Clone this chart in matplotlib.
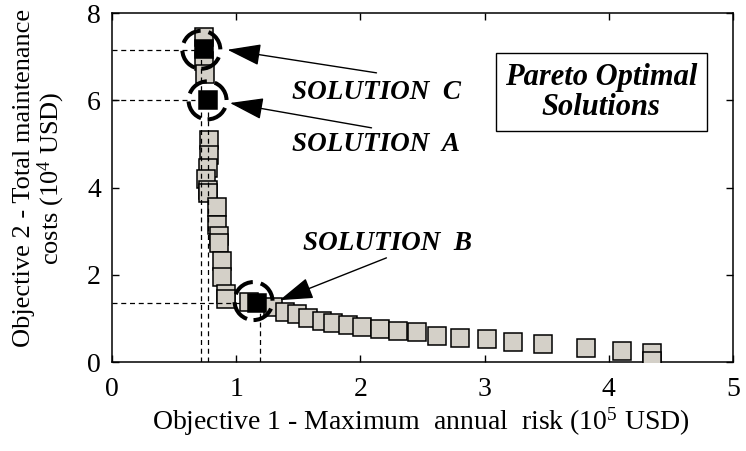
"""
Pareto front: maximum annual risk vs total maintenance costs
"""

import matplotlib
matplotlib.use('Agg')
import matplotlib.pyplot as plt
from matplotlib.patches import Circle
from matplotlib.transforms import ScaledTranslation

plt.rcParams['font.family'] = ['Liberation Serif', 'DejaVu Serif']
plt.rcParams['mathtext.fontset'] = 'custom'
plt.rcParams['mathtext.rm'] = 'Liberation Serif'
plt.rcParams['mathtext.it'] = 'Liberation Serif:italic'

# Pareto optimal solutions (risk 10^5 USD, cost 10^4 USD)
risk = [0.74, 0.74, 0.75, 0.78, 0.78, 0.77, 0.76, 0.77, 0.77, 0.85,
        0.85, 0.86, 0.86, 0.89, 0.89, 0.92, 0.92, 1.10, 1.30, 1.39,
        1.49, 1.58, 1.69, 1.78, 1.90, 2.01, 2.16, 2.30, 2.46, 2.62,
        2.80, 3.02, 3.23, 3.47, 3.82, 4.11, 4.35, 4.35]
cost = [7.45, 6.90, 6.60, 5.10, 4.75, 4.45, 4.20, 3.95, 3.87, 3.56,
        3.14, 2.90, 2.73, 2.32, 1.95, 1.56, 1.45, 1.38, 1.26, 1.15,
        1.10, 1.01, 0.94, 0.90, 0.85, 0.80, 0.75, 0.71, 0.68, 0.60,
        0.55, 0.53, 0.46, 0.41, 0.32, 0.25, 0.20, 0.03]

# highlighted solutions C, A, B
sol_names = ['C', 'A', 'B']
sol_risk = [0.74, 0.77, 1.17]
sol_cost = [7.18, 6.00, 1.35]
# where the dashed guides sit
guide_x = [0.72, 0.77, 1.19]
guide_y = [7.15, 6.00, 1.36]
guide_hlen = [0.67, 0.67, 1.03]
# circle centres
ring_x = [0.72, 0.77, 1.14]
ring_y = [7.16, 6.00, 1.40]
# label positions and arrow tips
label_x = [1.45, 1.45, 1.54]
label_y = [6.17, 4.98, 2.73]
tail_x = [2.13, 2.09, 2.21]
tail_y = [6.63, 5.37, 2.39]
tip_x = [0.93, 0.95, 1.35]
tip_y = [7.16, 5.94, 1.42]

fig = plt.figure(figsize=(7.46, 4.51), dpi=100)
ax = fig.add_axes([0.150, 0.197, 0.8326, 0.774])

ax.plot(risk, cost, 's', ms=13.5, mfc='#d4d0c8', mec='black', mew=1.1,
        zorder=3)

# dashed guide lines
for gx, gy, hl in zip(guide_x, guide_y, guide_hlen):
    ax.plot([0, hl], [gy, gy], '--', color='black', lw=0.9,
            dashes=(4, 3), zorder=4)
    ax.plot([gx, gx], [0, gy], '--', color='black', lw=0.9,
            dashes=(4, 3), zorder=4)

ax.plot(sol_risk, sol_cost, 's', ms=13.5, mfc='black', mec='black',
        mew=1.1, zorder=5)

# dashed rings around the chosen solutions
for cx, cy in zip(ring_x, ring_y):
    tr = fig.dpi_scale_trans + ScaledTranslation(cx, cy, ax.transData)
    ring = Circle((0, 0), radius=0.19, transform=tr, fill=False,
                  edgecolor='black', lw=2.9, linestyle=(0, (5.5, 2)),
                  zorder=6)
    ax.add_patch(ring)

for name, lx, ly, t0, t1, p0, p1 in zip(sol_names, label_x, label_y,
                                        tail_x, tail_y, tip_x, tip_y):
    ax.annotate('', xy=(p0, p1), xytext=(t0, t1),
                arrowprops=dict(arrowstyle='-|>,head_length=1.4,head_width=0.45',
                                mutation_scale=15, color='black', lw=1.0,
                                shrinkA=0, shrinkB=0), zorder=7)
    ax.text(lx, ly, f'SOLUTION  {name}', fontsize=19.5, fontweight='bold',
            fontstyle='italic', ha='left', va='center')

ax.text(3.94, 6.19, 'Pareto Optimal\nSolutions', fontsize=22,
        fontweight='bold', fontstyle='italic', ha='center', va='center',
        linespacing=1.05,
        bbox=dict(boxstyle='square,pad=0.3', fc='white', ec='black', lw=1.0))

ax.set_xlim(0, 5)
ax.set_ylim(0, 8)
ax.set_xticks([0, 1, 2, 3, 4, 5])
ax.set_yticks([0, 2, 4, 6, 8])
ax.tick_params(direction='in', top=True, right=True, length=5, width=1,
               labelsize=20)
ax.tick_params(axis='x', pad=11)
ax.tick_params(axis='y', pad=8)
for sp in ax.spines.values():
    sp.set_linewidth(1.1)

ax.set_xlabel('Objective 1 - Maximum  annual  risk (10$^5$ USD)', fontsize=20)
ax.xaxis.set_label_coords(0.497, -0.125)
ax.set_ylabel('Objective 2 - Total maintenance\ncosts (10$^4$ USD)',
              fontsize=19, linespacing=1.05)
ax.yaxis.set_label_coords(-0.072, 0.527)

fig.savefig('out.png', dpi=100)
